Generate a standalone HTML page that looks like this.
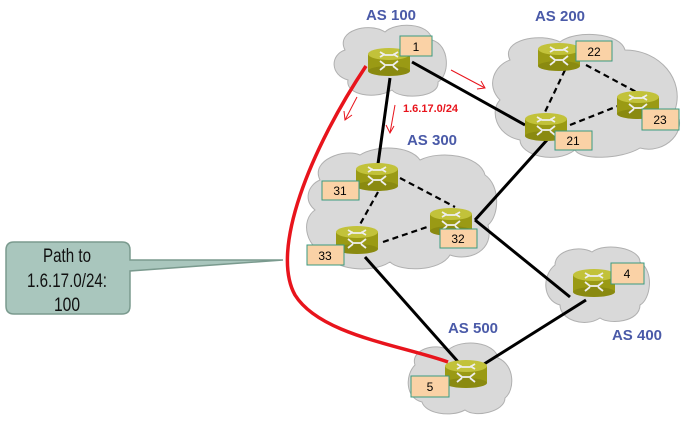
<!DOCTYPE html>
<html><head><style>body{margin:0;background:#fff}svg{display:block}</style></head><body>
<svg width="691" height="424" viewBox="0 0 691 424" xmlns="http://www.w3.org/2000/svg" font-family="Liberation Sans, sans-serif">
<defs>
<g id="r">
<rect x="-21" y="-8" width="42" height="17" fill="#9a9a14"/>
<ellipse cx="0" cy="9" rx="21" ry="5" fill="#8a8a10"/>
<ellipse cx="0" cy="-8" rx="21" ry="6" fill="#c2c23a"/>
<path d="M-9,-10 L-4,-7 L4,-7 L9,-10 M-9,-5 L-4,-8 M4,-8 L9,-5 M-9,-1 L-4,3 L4,3 L9,-1 M-9,8 L-4,4 M4,4 L9,8" stroke="#eee" stroke-width="1.8" fill="none"/>
</g>
</defs>
<g fill="#d9d9d9" stroke="#b0b0b0">
<path d="M345,50 C335,30 370,22 385,32 C395,22 430,22 432,40 C450,45 450,75 438,82 C440,98 400,100 392,90 C375,100 345,95 348,80 C330,75 330,55 345,50Z"/>
<path d="M510,60 C500,40 540,32 560,42 C575,30 620,32 625,50 C660,50 685,80 675,110 C690,130 665,155 640,148 C620,160 580,160 575,150 C555,165 520,155 520,140 C495,135 490,110 500,100 C485,85 495,65 510,60Z"/>
<path d="M320,180 C310,160 345,148 360,155 C375,145 410,145 420,160 C440,150 480,155 485,175 C500,185 500,215 488,225 C495,250 470,262 450,255 C440,272 400,272 390,262 C370,275 330,268 330,255 C305,250 300,220 315,210 C303,200 308,185 320,180Z"/>
<path d="M555,265 C555,250 580,245 592,252 C605,242 640,248 640,262 C655,272 650,300 640,305 C640,322 610,325 600,318 C585,328 560,320 560,305 C542,300 542,275 555,265Z"/>
<path d="M415,365 C410,350 435,342 448,350 C462,338 495,342 498,358 C515,365 515,390 505,398 C505,412 475,418 465,410 C450,418 425,413 422,402 C405,398 405,375 415,365Z"/>
</g>
<g stroke="#000" stroke-width="3" fill="none">
<line x1="412" y1="62" x2="525" y2="125"/>
<line x1="390" y1="78" x2="378" y2="164"/>
<line x1="547" y1="140" x2="475" y2="220"/>
<line x1="475" y1="220" x2="570" y2="297"/>
<line x1="365" y1="257" x2="460" y2="364"/>
<line x1="465" y1="376" x2="586" y2="300"/>
</g>
<g stroke="#000" stroke-width="2.2" stroke-dasharray="6,4" fill="none">
<line x1="565" y1="70" x2="545" y2="112"/>
<line x1="586" y1="65" x2="640" y2="94"/>
<line x1="570" y1="125" x2="618" y2="106"/>
<line x1="400" y1="178" x2="455" y2="207"/>
<line x1="378" y1="192" x2="358" y2="228"/>
<line x1="383" y1="242" x2="430" y2="226"/>
</g>
<path d="M366,66 C310,150 270,250 295,295 C320,335 400,345 448,362" stroke="#e8141c" stroke-width="3.5" fill="none"/>
<g stroke="#e8141c" stroke-width="1" fill="none">
<line x1="451" y1="70" x2="485" y2="88"/><path d="M477,89 L485,88 L481,81"/>
<line x1="357" y1="97" x2="345" y2="120"/><path d="M344,111 L345,120 L352,115"/>
<line x1="395" y1="105" x2="390" y2="133"/><path d="M386,125 L390,133 L394,126"/>
</g>
<text x="403" y="112" fill="#e8141c" font-size="11" font-weight="bold">1.6.17.0/24</text>
<use href="#r" x="389" y="62"/>
<use href="#r" x="559" y="57"/>
<use href="#r" x="638" y="105"/>
<use href="#r" x="546" y="127"/>
<use href="#r" x="377" y="177"/>
<use href="#r" x="451" y="222"/>
<use href="#r" x="357" y="240"/>
<use href="#r" x="594" y="283"/>
<use href="#r" x="466" y="374"/>
<g fill="#fad2a6" stroke="#3a9a80" stroke-width="1">
<rect x="400" y="36" width="32" height="20"/>
<rect x="576" y="41" width="36" height="20"/>
<rect x="642" y="109" width="37" height="21"/>
<rect x="555" y="131" width="37" height="19"/>
<rect x="322" y="181" width="37" height="19"/>
<rect x="440" y="229" width="37" height="19"/>
<rect x="307" y="245" width="37" height="20"/>
<rect x="611" y="263" width="33" height="21"/>
<rect x="411" y="376" width="38" height="21"/>
</g>
<g font-size="12" text-anchor="middle" fill="#000">
<text x="416" y="51">1</text><text x="594" y="56">22</text><text x="660" y="124">23</text>
<text x="573" y="145">21</text><text x="340" y="195">31</text><text x="458" y="243">32</text>
<text x="325" y="260">33</text><text x="627" y="278">4</text><text x="430" y="391">5</text>
</g>
<g font-size="15" font-weight="bold" fill="#4a5aa8" text-anchor="middle">
<text x="391" y="20">AS 100</text><text x="560" y="21">AS 200</text><text x="432" y="145">AS 300</text>
<text x="473" y="333">AS 500</text><text x="637" y="340">AS 400</text>
</g>
<path d="M14,242 H122 Q130,242 130,250 V260 L283,260 L130,271 V306 Q130,314 122,314 H14 Q6,314 6,306 V250 Q6,242 14,242Z" fill="#a9c6bd" stroke="#7a9a8e" stroke-width="1.5"/>
<g font-size="19" text-anchor="middle" fill="#111">
<text x="67" y="262" textLength="48" lengthAdjust="spacingAndGlyphs">Path to</text>
<text x="67" y="287" textLength="80" lengthAdjust="spacingAndGlyphs">1.6.17.0/24:</text>
<text x="67" y="311" textLength="26" lengthAdjust="spacingAndGlyphs">100</text>
</g>
</svg>
</body></html>
